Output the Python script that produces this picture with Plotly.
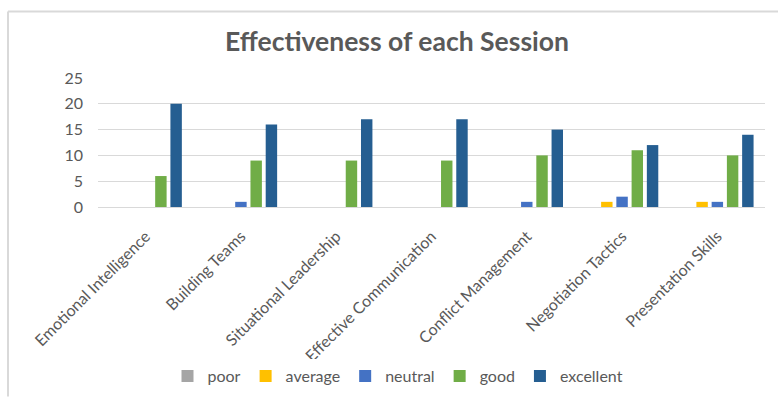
import plotly.graph_objects as go

sessions = [
    "Emotional Intelligence",
    "Building Teams",
    "Situational Leadership",
    "Effective Communication",
    "Conflict Management",
    "Negotiation Tactics",
    "Presentation Skills",
]
ratings = ["poor", "average", "neutral", "good", "excellent"]
poor = [0, 0, 0, 0, 0, 0, 0]
average = [0, 0, 0, 0, 0, 1, 1]
neutral = [0, 1, 0, 0, 1, 2, 1]
good = [6, 9, 9, 9, 10, 11, 10]
excellent = [20, 16, 17, 17, 15, 12, 14]
y_ticks = [0, 5, 10, 15, 20, 25]

series = [poor, average, neutral, good, excellent]
colors = ["#A5A5A5", "#FFC000", "#4472C4", "#70AD47", "#255E91"]

W, H = 778, 404
ML, MR, MT, MB = 98, 13, 78, 194
plot_w = W - ML - MR
plot_h = H - MT - MB


def px_x(px):
    return (px - ML) / plot_w


def px_y(py):
    return (H - MB - py) / plot_h


fig = go.Figure()
for name, vals, col in zip(ratings, series, colors):
    fig.add_trace(go.Bar(name=name, x=sessions, y=vals, marker_color=col,
                         marker_line_width=0))

font_family = "Lato, 'Open Sans', sans-serif"
fig.update_layout(
    width=W, height=H,
    margin=dict(l=ML, r=MR, t=MT, b=MB),
    paper_bgcolor="white", plot_bgcolor="white",
    barmode="group", bargap=0.2, bargroupgap=0.25,
    font=dict(family=font_family, color="#595959", size=16),
    title=dict(text="<b>Effectiveness of each Session</b>", x=397 / W,
               xanchor="center", y=1 - 42 / H, yanchor="middle",
               font=dict(size=26.5, color="#595959", family=font_family)),
    legend=dict(orientation="h", x=px_x(398), xanchor="center",
                y=px_y(383), yanchor="middle",
                font=dict(size=16, color="#595959"),
                itemwidth=30, traceorder="normal"),
    showlegend=True,
)
fig.update_yaxes(range=[0, 25], tickvals=y_ticks, showgrid=True,
                 gridcolor="#D9D9D9", gridwidth=1, zeroline=True,
                 zerolinecolor="#D9D9D9", zerolinewidth=1, showline=False,
                 ticklabelstandoff=14, tickfont=dict(size=16, color="#595959"))
fig.update_xaxes(tickangle=-45, showline=False, showgrid=False,
                 ticklabelstandoff=16, tickfont=dict(size=16, color="#595959"))

# light frame along the top and left edges
fig.add_shape(type="line", xref="paper", yref="paper",
              x0=px_x(8), x1=px_x(778), y0=px_y(10), y1=px_y(10),
              line=dict(color="#D9D9D9", width=2))
fig.add_shape(type="line", xref="paper", yref="paper",
              x0=px_x(8), x1=px_x(8), y0=px_y(10), y1=px_y(404),
              line=dict(color="#D9D9D9", width=2))

fig.write_html("out.html")
